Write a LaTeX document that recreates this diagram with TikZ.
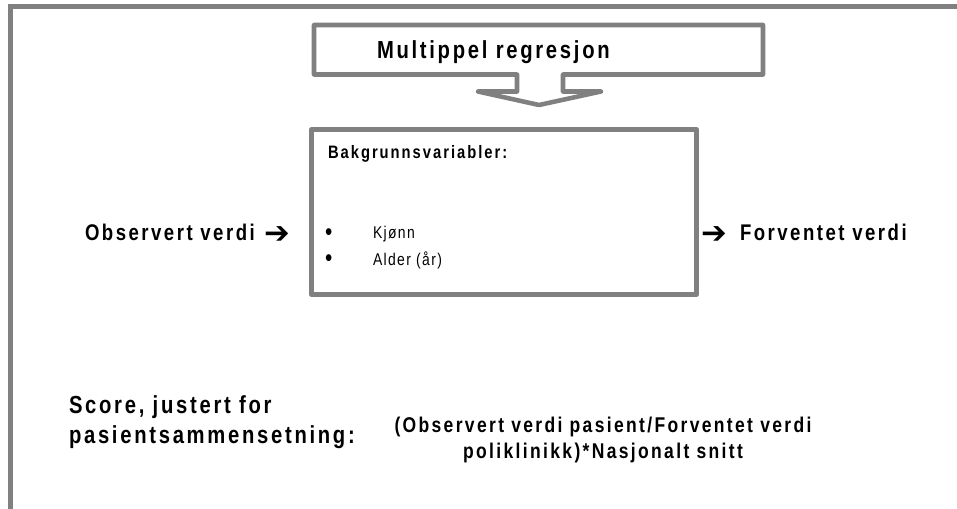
\documentclass[tikz,border=0pt]{standalone}
\usepackage{fontspec}
\setmainfont{Liberation Sans}
\newfontfamily\tfont{Liberation Sans}[FakeStretch=0.82,LetterSpace=11]
\newfontfamily\tfontreg{Liberation Sans}[FakeStretch=0.82,LetterSpace=8]
\newfontfamily\arrowfont{DejaVu Sans}
\definecolor{framegray}{HTML}{808080}
\tikzset{
  txt/.style={inner sep=0pt, outer sep=0pt, anchor=base west, font=\tfont\bfseries},
  frameline/.style={draw=framegray, line width=4.2pt},
  boxline/.style={draw=framegray, line width=3.4pt, fill=white, line join=round},
}
\begin{document}
\begin{tikzpicture}[x=0.75pt, y=-0.75pt]
\useasboundingbox (0,0) rectangle (957,508);
% outer frame (top and left)
\draw[frameline] (957,6.5) -- (10.5,6.5) -- (10.5,510);
% callout box
\draw[boxline] (314,25) -- (763,25) -- (763,74.5) -- (563,74.5) -- (563,91.5)
  -- (601,91.5) -- (539,105) -- (478,91.5) -- (517,91.5) -- (517,74.5)
  -- (314,74.5) -- cycle;
\node[txt, font=\tfont\bfseries\fontsize{18.5pt}{22pt}\selectfont] (mr) at (377,58) {Multippel regresjon};
% main box
\draw[boxline] (311.5,129.5) rectangle (696.5,294.5);
\node[txt, font=\tfont\bfseries\fontsize{13.5pt}{16pt}\selectfont] (bv) at (328,158) {Bakgrunnsvariabler:};
\node[txt, font=\tfontreg\fontsize{19pt}{15pt}\selectfont] (b1) at (325,240) {•};
\node[txt, font=\tfontreg\fontsize{19pt}{15pt}\selectfont] (b2) at (325,266) {•};
\node[txt, font=\tfontreg\fontsize{12.75pt}{15pt}\selectfont] (k) at (373,238) {Kjønn};
\node[txt, font=\tfontreg\fontsize{12.75pt}{15pt}\selectfont] (a) at (373,265) {Alder (år)};
% left and right
\node[txt, font=\tfont\bfseries\fontsize{17pt}{20pt}\selectfont] (ov) at (85,240) {Observert verdi};
\node[txt, font=\arrowfont\bfseries\fontsize{23pt}{26pt}\selectfont] (ar1) at (264,243) {➔};
\node[txt, font=\arrowfont\bfseries\fontsize{23pt}{26pt}\selectfont] (ar2) at (701,243) {➔};
\node[txt, font=\tfont\bfseries\fontsize{17pt}{20pt}\selectfont] (fv) at (740,240) {Forventet verdi};
% bottom
\node[txt, font=\tfont\bfseries\fontsize{18.5pt}{20pt}\selectfont] (s1) at (69,413) {Score, justert for};
\node[txt, font=\tfont\bfseries\fontsize{18.5pt}{20pt}\selectfont] (s2) at (69,443) {pasientsammensetning:};
\node[inner sep=0pt, anchor=base, font=\tfont\bfseries\fontsize{16pt}{19pt}\selectfont] (f1) at (603,432) {(Observert verdi pasient/Forventet verdi};
\node[inner sep=0pt, anchor=base, font=\tfont\bfseries\fontsize{16pt}{19pt}\selectfont] (f2) at (603,458) {poliklinikk)*Nasjonalt snitt};
\end{tikzpicture}
\end{document}
